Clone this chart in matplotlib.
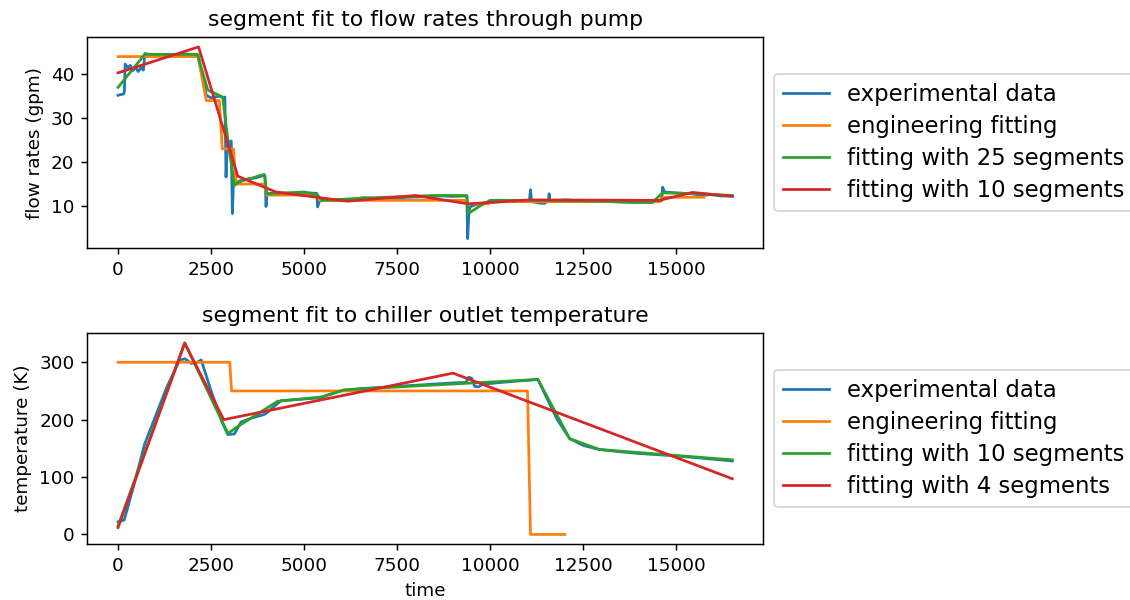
import matplotlib
matplotlib.use("Agg")
import matplotlib.pyplot as plt

# --- flow rate through pump (top panel) ---
flow_time = [0, 150, 170, 190, 260, 330, 400, 470, 540, 620, 680, 720, 900, 1200, 1500,
             1800, 2150, 2250, 2370, 2500, 2700, 2850, 2870, 2900, 2940, 3000, 3040, 3070,
             3100, 3300, 3500, 3700, 3920, 3950, 3975, 4000, 4300, 4700, 5000, 5340, 5360,
             5420, 5800, 6200, 6600, 7000, 7400, 7800, 8200, 8700, 9000, 9370, 9390, 9420,
             9450, 9600, 9900, 10300, 10700, 11050, 11080, 11110, 11300, 11460, 11560, 11580,
             11600, 12000, 12500, 13000, 13500, 14000, 14500, 14600, 14630, 14680, 15000,
             15400, 15700, 15900, 16200, 16500]
flow_exp = [35.2, 35.5, 36.0, 42.3, 41.5, 42.0, 40.8, 41.6, 40.6, 41.5, 40.9, 44.7, 44.4, 44.5,
            44.3, 44.6, 44.4, 40.0, 35.2, 34.6, 35.0, 34.6, 34.8, 16.6, 25.0, 24.6, 24.8, 8.3,
            15.2, 15.8, 16.2, 16.4, 17.0, 16.8, 9.9, 12.8, 13.0, 12.8, 13.0, 12.9, 9.8, 11.3,
            11.2, 11.4, 11.9, 11.7, 11.8, 12.0, 12.1, 12.3, 12.2, 12.3, 2.6, 7.5, 9.8, 10.3,
            10.8, 11.0, 11.3, 11.2, 13.7, 11.0, 10.7, 10.6, 11.2, 12.8, 11.0, 11.4, 11.2, 11.1,
            10.9, 10.8, 11.0, 11.2, 14.3, 13.2, 13.0, 12.8, 12.4, 12.6, 12.3, 12.3]

flow_eng_time = [0, 2150, 2370, 2720, 2800, 3100, 3170, 3930, 4000, 5350, 5420, 9300, 9400,
                 9950, 10000, 14550, 14650, 15740]
flow_eng = [44, 44, 34, 34, 23, 23, 15, 15, 12.5, 12.5, 11.3, 11.3, 10.5, 10.5, 11.0, 11.0,
            12.0, 12.0]

flow_seg25_time = [0, 717, 2130, 2410, 2810, 2950, 3125, 3250, 3927, 4000, 5000, 5350, 5480,
                   6560, 8475, 9370, 9411, 9680, 9991, 11000, 12000, 13000, 14350, 14627,
                   15610, 16500]
flow_seg25 = [37.0, 44.5, 44.5, 36.4, 34.8, 25.0, 14.7, 15.5, 17.2, 12.8, 13.2, 12.6, 11.3,
              11.8, 12.4, 12.4, 8.3, 9.8, 11.3, 11.3, 11.2, 11.1, 10.8, 13.0, 12.8, 12.4]

flow_seg10_time = [0, 2162, 3215, 4240, 6157, 7985, 9411, 11060, 14540, 15430, 16500]
flow_seg10 = [40.3, 46.2, 16.8, 13.2, 11.1, 12.4, 10.5, 11.4, 11.3, 13.1, 12.2]

# --- chiller outlet temperature (bottom panel) ---
temp_time = [0, 165, 400, 717, 1000, 1300, 1654, 1800, 1966, 2100, 2234, 2500, 2800, 2947,
             3125, 3304, 3600, 3927, 4000, 4374, 5000, 5444, 5578, 5979, 6500, 7000, 7500,
             8000, 8500, 9000, 9350, 9420, 9501, 9580, 9680, 9813, 10500, 11280, 11500,
             11800, 12130, 12500, 12930, 13500, 14000, 14717, 15500, 16500]
temp_exp = [22, 25, 80, 158, 205, 255, 304, 306, 298, 299, 304, 250, 195, 174, 175, 196, 203,
            209, 212, 233, 236, 238, 242, 250, 254, 256, 258, 260, 262, 264, 265, 274, 272,
            258, 257, 262, 266, 270, 240, 200, 167, 155, 148, 144, 141, 138, 134, 128]

temp_eng_time = [0, 3000, 3050, 11000, 11080, 12000]
temp_eng = [300, 300, 250, 250, 0, 0]

temp_seg10_time = [0, 1790, 2950, 3215, 4285, 5530, 6070, 11280, 12130, 12930, 16500]
temp_seg10 = [15, 334, 176, 188, 232, 240, 252, 270, 167, 148, 130]

temp_seg4_time = [0, 1790, 2840, 9000, 16500]
temp_seg4 = [12, 333, 200, 281, 97]


DPI = 132
fig, (ax1, ax2) = plt.subplots(2, 1, figsize=(1130 / DPI, 600 / DPI), dpi=DPI)
fig.subplots_adjust(left=0.0773, right=0.6752, top=0.9378, bottom=0.0933, hspace=0.403)

# top: flow rates
ax1.plot(flow_time, flow_exp, label="experimental data")
ax1.plot(flow_eng_time, flow_eng, label="engineering fitting")
ax1.plot(flow_seg25_time, flow_seg25, label="fitting with 25 segments")
ax1.plot(flow_seg10_time, flow_seg10, label="fitting with 10 segments")
ax1.set_title("segment fit to flow rates through pump")
ax1.set_ylabel("flow rates (gpm)")
ax1.legend(loc="center left", bbox_to_anchor=(1, 0.5), fontsize=12.4, labelspacing=0.4)

# bottom: temperature
ax2.plot(temp_time, temp_exp, label="experimental data")
ax2.plot(temp_eng_time, temp_eng, label="engineering fitting")
ax2.plot(temp_seg10_time, temp_seg10, label="fitting with 10 segments")
ax2.plot(temp_seg4_time, temp_seg4, label="fitting with 4 segments")
ax2.set_title("segment fit to chiller outlet temperature")
ax2.set_xlabel("time")
ax2.set_ylabel("temperature (K)")
ax2.legend(loc="center left", bbox_to_anchor=(1, 0.5), fontsize=12.4, labelspacing=0.4)

fig.savefig("out.png", dpi=DPI)
